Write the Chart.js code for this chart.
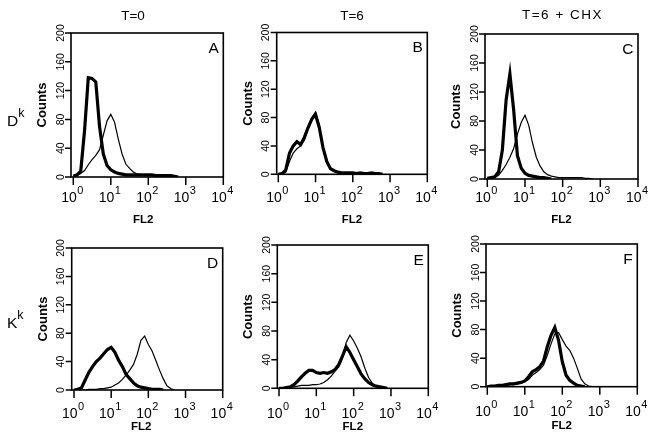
<!DOCTYPE html>
<html>
<head>
<meta charset="utf-8">
<script src="https://cdn.jsdelivr.net/npm/chart.js@4.4.1/dist/chart.umd.min.js"></script>
<style>
body{margin:0;background:#fff}
#wrap{position:relative;width:655px;height:442px;background:#fff}
#wrap canvas{position:absolute;left:0;top:0}
</style>
</head>
<body>
<div id="wrap"></div>
<script>
// FL2 channels (log scale), shared by every histogram
const channels=[1,1.26,1.58,2,2.51,3.16,3.98,5.01,6.31,7.94,10,12.6,15.8,20,25.1,31.6,39.8,50.1,63.1,79.4,100,126,158,200,251,316,398,501,631,794,1000,10000];

// counts per channel, thin = control, thick = stained
const aThin=[0,2,5,9,17,24,30,38,58,78,87,76,53,32,18,12,7,4,3,2,2,2,2,2,2,2,2,0];
const aThick=[1,3,8,65,138,137,132,70,32,16,10,7,5,4,3,3,3,3,3,3,3,3,2,2,2,2,2,1,0];
const bThin=[0,1,3,18,30,36,40,48,64,80,88,70,36,16,7,4,3,2,1,1,1,1,1,1,1,1,1,0];
const bThick=[0,1,6,30,40,46,42,52,66,78,84,66,38,18,8,5,3,2,2,2,2,1,2,1,1,2,1,1,0];
const cThin=[0,1,2,5,12,20,30,42,62,78,88,74,50,30,18,10,6,4,3,2,2,2,2,2,2,2,1,1,0];
const cThick=[1,2,3,10,40,109,145,95,32,15,8,5,4,3,2,2,1,0];
const dThin=[0,0,0,0,1,1,1,2,2,3,4,7,10,15,21,28,36,50,70,76,64,55,42,28,16,6,2,0];
const dThick=[0,1,3,14,25,33,40,45,51,57,60,53,42,33,22,16,10,6,4,3,2,1,1,1,0];
const eThin=[0,0,0,1,2,3,4,4,4,5,5,6,8,12,17,24,30,42,64,74,66,56,44,28,15,7,3,1,0];
const eThick=[0,0,1,2,5,10,16,21,25,25,22,21,22,21,23,26,33,45,58,50,40,30,20,13,8,5,3,2,1,0];
const fThin=[0,0,1,1,2,2,3,3,4,5,7,10,16,20,24,30,44,60,74,76,66,57,51,40,26,11,4,1,0];
const fThick=[0,1,1,2,2,3,4,4,5,6,8,14,21,24,28,36,56,72,83,65,35,16,9,5,2,1,0];

const yTicks=[0,40,80,120,160,200];
const xTicks=[1,10,100,1000,10000];
const xTickExp=['0','1','2','3','4'];
const columnTitles=['T=0','T=6','T=6 + CHX'];
const rowLabels=['D','K'];
const rowLabelSup='k';
const panelLetters=['A','B','C','D','E','F'];

const FONT='"Liberation Sans", Arial, Helvetica, sans-serif';
const W=655,H=442;

// box edges (left, 10^0 tick, 10^4 tick, top, bottom) and text spots per panel
const panels=[
{thin:aThin,thick:aThick,left:71,x0:73.3,right:223.3,top:33,bottom:177,labelY:202,fl2Y:222.5,fl2X:-4,title:0,titleX:133,titleY:20,row:0},
{thin:bThin,thick:bThick,left:276.7,x0:278.3,right:427.3,top:32.5,bottom:174.3,labelY:201.5,fl2Y:222.5,fl2X:0,title:1,titleX:352,titleY:20},
{thin:cThin,thick:cThick,left:485,x0:487.3,right:638,top:34,bottom:179,labelY:201.5,fl2Y:222.5,fl2X:0,title:2,titleX:562.5,titleY:19},
{thin:dThin,thick:dThick,left:71.7,x0:74,right:222.7,top:248,bottom:390,labelY:417.5,fl2Y:430,fl2X:-6,row:1},
{thin:eThin,thick:eThick,left:277.3,x0:279,right:428.3,top:245,bottom:388.3,labelY:418,fl2Y:430,fl2X:0},
{thin:fThin,thick:fThick,left:486,x0:487.3,right:637.3,top:244,bottom:386.7,labelY:415.5,fl2Y:429,fl2X:0}
];

const axes={
id:'axes',
afterDraw(chart){
const p=chart.options.plugins.axes;
const {ctx,chartArea:a}=chart;
const xs=chart.scales.x, ys=chart.scales.y;
ctx.save();
ctx.strokeStyle='#000';
ctx.fillStyle='#000';
ctx.lineWidth=1.6;
ctx.strokeRect(a.left,a.top,a.right-a.left,a.bottom-a.top);

ctx.lineWidth=1.5;
ctx.beginPath();
yTicks.forEach(v=>{
const py=ys.getPixelForValue(v);
ctx.moveTo(a.left-6,py);ctx.lineTo(a.left,py);
});
xTicks.forEach(v=>{
const px=xs.getPixelForValue(v);
ctx.moveTo(px,a.bottom);ctx.lineTo(px,a.bottom+8);
});
ctx.stroke();

// y tick labels, rotated
ctx.font='10.5px '+FONT;
ctx.textAlign='center';
ctx.textBaseline='alphabetic';
yTicks.forEach(v=>{
const py=ys.getPixelForValue(v);
ctx.save();
ctx.translate(a.left-7.5,py);
ctx.rotate(-Math.PI/2);
ctx.fillText(String(v),0,0);
ctx.restore();
});

// x tick labels 10^n
ctx.textAlign='left';
xTicks.forEach((v,i)=>{
const px=xs.getPixelForValue(v);
ctx.font='14px '+FONT;
const w1=ctx.measureText('10').width;
ctx.font='11px '+FONT;
const w2=ctx.measureText(xTickExp[i]).width;
const sx=px-1-(w1+w2+0.5)/2;
ctx.font='14px '+FONT;
ctx.fillText('10',sx,p.labelY);
ctx.font='11px '+FONT;
ctx.fillText(xTickExp[i],sx+w1+0.5,p.labelY-8);
});

// axis titles
ctx.textAlign='center';
ctx.font='bold 11.5px '+FONT;
ctx.fillText('FL2',(a.left+a.right)/2+p.fl2X,p.fl2Y);
ctx.save();
ctx.translate(a.left-25,(a.top+a.bottom)/2);
ctx.rotate(-Math.PI/2);
ctx.font='bold 13px '+FONT;
ctx.fillText('Counts',0,0);
ctx.restore();

// panel letter
ctx.textAlign='right';
ctx.font='15.5px '+FONT;
ctx.fillText(p.letter,a.right-4.5,a.top+19.5);

// column title
if(p.title!=null){
ctx.textAlign='center';
ctx.font='13.5px '+FONT;
if(p.title===2) ctx.letterSpacing='1.5px';
ctx.fillText(columnTitles[p.title],p.titleX,p.titleY);
ctx.letterSpacing='0px';
}
// row label D^k / K^k
if(p.row!=null){
ctx.textAlign='left';
ctx.font='15.5px '+FONT;
const rx=7, ry=p.row===0?126:328;
ctx.fillText(rowLabels[p.row],rx,ry);
const rw=ctx.measureText(rowLabels[p.row]).width;
ctx.font='12.5px '+FONT;
ctx.fillText(rowLabelSup,rx+rw,ry-9);
}
ctx.restore();
}
};

const wrap=document.getElementById('wrap');

panels.forEach((p,i)=>{
const cv=document.createElement('canvas');
cv.width=W;cv.height=H;
cv.style.width=W+'px';cv.style.height=H+'px';
wrap.appendChild(cv);

const decade=(p.right-p.x0)/4;
const xMin=Math.pow(10,-(p.x0-p.left)/decade);

new Chart(cv,{
type:'line',
data:{
datasets:[
{data:p.thin.map((v,k)=>({x:channels[k],y:v})),borderColor:'#000',borderWidth:1.2,pointRadius:0,tension:0},
{data:p.thick.map((v,k)=>({x:channels[k],y:v})),borderColor:'#000',borderWidth:3.2,pointRadius:0,tension:0}
]
},
options:{
responsive:false,
animation:false,
events:[],
layout:{padding:{left:p.left,right:W-p.right,top:p.top,bottom:H-p.bottom}},
scales:{
x:{type:'logarithmic',min:xMin,max:10000,display:false},
y:{type:'linear',min:0,max:200,display:false}
},
plugins:{
legend:{display:false},
tooltip:{enabled:false},
axes:{letter:panelLetters[i],labelY:p.labelY,fl2Y:p.fl2Y,fl2X:p.fl2X,title:p.title,titleX:p.titleX,titleY:p.titleY,row:p.row}
}
},
plugins:[axes]
});
});
</script>
</body>
</html>
